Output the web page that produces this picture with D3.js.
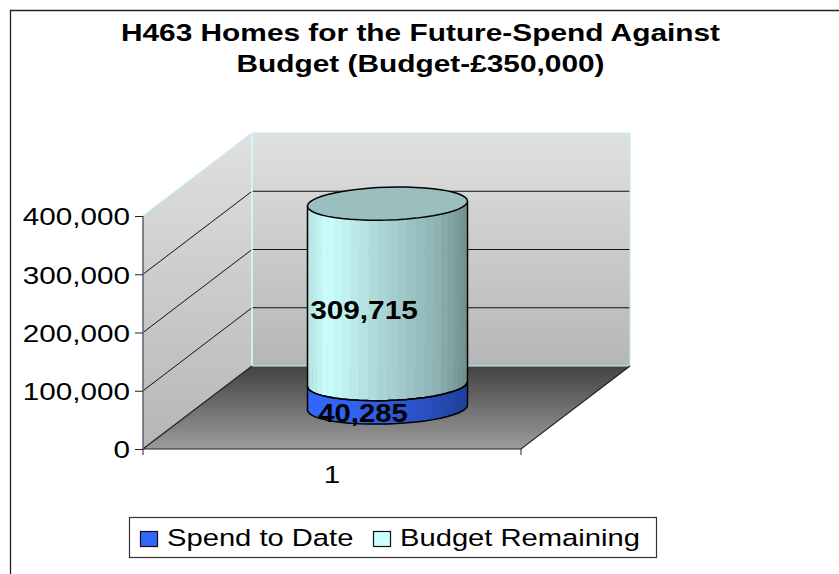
<!DOCTYPE html>
<html><head><meta charset="utf-8">
<script src="https://cdn.jsdelivr.net/npm/d3@7"></script>
<style>html,body{margin:0;padding:0;background:#fff}svg{display:block}text{font-family:"Liberation Sans",Arial,sans-serif;fill:#000}</style>
</head><body><svg id="c" width="839" height="574"></svg>
<script>
const titleLines = ["H463 Homes for the Future-Spend Against", "Budget (Budget-£350,000)"];
const categories = ["1"];
const seriesNames = ["Spend to Date", "Budget Remaining"];
const spendToDate = [40285];
const budgetRemaining = [309715];
const yTicks = [0, 100000, 200000, 300000, 400000];

const svg = d3.select("#c");
const W = 839, H = 574;
const depth = {x: 109, y: -83};
const y = d3.scaleLinear().domain([0, 400000]).range([449, 216]);
const x = d3.scaleBand().domain(categories).range([143, 521]);
const fmt = d3.format(",");
const stretch = k => sel => sel.each(function () {
  const w = this.getComputedTextLength();
  d3.select(this).attr("textLength", w * k).attr("lengthAdjust", "spacingAndGlyphs");
});

// frame
svg.append("path").attr("d", `M10.5,${H} V10.5 H${W}`).attr("fill", "none").attr("stroke", "#222").attr("stroke-width", 1.3);

// gradients
const defs = svg.append("defs");
function grad(id, a, b) {
  const g = defs.append("linearGradient").attr("id", id).attr("x1", 0).attr("y1", 0).attr("x2", 0).attr("y2", 1);
  g.append("stop").attr("offset", 0).attr("stop-color", a);
  g.append("stop").attr("offset", 1).attr("stop-color", b);
}
grad("wall", "#e0e0e0", "#b6b6b6");
grad("floor", "#424242", "#9c9c9c");

const x0 = x.range()[0], x1 = x.range()[1], yB = y(0), yT = y(400000);
const line = d3.line();
svg.append("path").attr("d", line([[x0, yB], [x1, yB], [x1 + depth.x, yB + depth.y], [x0 + depth.x, yB + depth.y]]) + "Z")
  .attr("fill", "url(#floor)");
svg.append("path").attr("d", line([[x0, yB], [x0, yT], [x0 + depth.x, yT + depth.y], [x0 + depth.x, yB + depth.y]]) + "Z")
  .attr("fill", "url(#wall)");
svg.append("rect").attr("x", x0 + depth.x).attr("y", yT + depth.y).attr("width", x1 - x0).attr("height", yB - yT)
  .attr("fill", "url(#wall)");

// gridlines
yTicks.filter(v => v > 0 && v < 400000).forEach(v => {
  svg.append("path").attr("d", line([[x0, y(v)], [x0 + depth.x, y(v) + depth.y], [x1 + depth.x, y(v) + depth.y]]))
    .attr("fill", "none").attr("stroke", "#111").attr("stroke-width", 1);
});
// cyan wall edges
svg.append("path").attr("d", line([[x0, yT], [x0 + depth.x, yT + depth.y], [x1 + depth.x, yT + depth.y], [x1 + depth.x, yB + depth.y], [x0 + depth.x, yB + depth.y]]))
  .attr("fill", "none").attr("stroke", "#bfeeee").attr("stroke-width", 1.2);
svg.append("line").attr("x1", x0 + depth.x).attr("x2", x0 + depth.x).attr("y1", yT + depth.y).attr("y2", yB + depth.y)
  .attr("stroke", "#ccffff").attr("stroke-width", 1.6);
// floor edges
svg.append("path").attr("d", line([[x0 + depth.x, yB + depth.y], [x0, yB], [x1, yB], [x1 + depth.x, yB + depth.y]]))
  .attr("fill", "none").attr("stroke", "#222").attr("stroke-width", 1.2);

// axes
const yAxis = d3.axisLeft(y).tickValues(yTicks).tickFormat(fmt).tickSize(8).tickPadding(5);
const gy = svg.append("g").attr("transform", `translate(${x0},0)`).call(yAxis);
gy.select(".domain").attr("stroke", "#667").attr("stroke-width", 1.6).attr("d", `M0,${yT}V${yB}`);
gy.selectAll(".tick line").attr("stroke", "#222");
gy.selectAll("text").attr("font-size", 24.5).attr("dy", "0.36em").call(stretch(1.21));
const xAxis = d3.axisBottom(x).tickSize(0).tickPadding(17);
const gx = svg.append("g").attr("transform", `translate(0,${yB})`).call(xAxis);
gx.select(".domain").remove();
gx.selectAll("text").attr("font-size", 24.5).attr("dy", "0.71em").attr("fill", "#000").call(stretch(1.21));
svg.append("line").attr("x1", x1).attr("x2", x1).attr("y1", yB).attr("y2", yB + 6).attr("stroke", "#222");
svg.append("line").attr("x1", x0).attr("x2", x0).attr("y1", yB).attr("y2", yB + 6).attr("stroke", "#222");

// cylinder
const cx = x(categories[0]) + x.bandwidth() / 2 + depth.x / 2 + 1;
const base = depth.y / 2;
const rA = {x: x.bandwidth() * 0.21, y: -4.5};
const rB = {x: 10, y: 16};
const t0 = Math.atan2(rB.x, rA.x);
const N = 26;
const pt = (t, v) => [cx + rA.x * Math.cos(t) + rB.x * Math.sin(t), y(v) + base + rA.y * Math.cos(t) + rB.y * Math.sin(t)];
const frontTs = d3.range(N + 1).map(i => t0 + Math.PI * i / N);
const allTs = d3.range(2 * N).map(i => t0 + Math.PI * i / N);

const shade = stops => d3.scaleLinear().domain(stops.map(s => s[0])).range(stops.map(s => s[1]));
const lightShade = shade([[0, "#b4e4e4"], [0.12, "#ccffff"], [0.45, "#abd6d6"], [0.8, "#8fb5b5"], [1, "#6f8f8f"]]);
const blueShade = shade([[0, "#3366ff"], [0.3, "#3063f0"], [0.7, "#2a52c4"], [1, "#1f3f9a"]]);

const spend = spendToDate[0], total = spend + budgetRemaining[0];
function segment(v0, v1, color) {
  const g = svg.append("g");
  d3.range(N).forEach(i => {
    const a = frontTs[i], b = frontTs[i + 1];
    const f = (pt((a + b) / 2, 0)[0] - (cx - rA.x)) / (2 * rA.x);
    const q = [pt(a, v0), pt(b, v0), pt(b, v1), pt(a, v1)];
    g.append("path").attr("d", line(q) + "Z").attr("fill", color(f)).attr("stroke", color(f)).attr("stroke-width", 0.6);
  });
  g.append("path").attr("d", line(frontTs.map(t => pt(t, v0)))).attr("fill", "none").attr("stroke", "#000").attr("stroke-width", 1.5);
  g.append("path").attr("d", line([pt(frontTs[0], v0), pt(frontTs[0], v1)])).attr("stroke", "#000").attr("stroke-width", 1.5);
  g.append("path").attr("d", line([pt(frontTs[N], v0), pt(frontTs[N], v1)])).attr("stroke", "#000").attr("stroke-width", 1.5);
}
segment(0, spend, blueShade);
segment(spend, total, lightShade);
svg.append("path").attr("d", line(frontTs.map(t => pt(t, spend)))).attr("fill", "none").attr("stroke", "#000").attr("stroke-width", 1.5);
svg.append("path").attr("d", line(allTs.map(t => pt(t, total))) + "Z")
  .attr("fill", "#9bbfbf").attr("stroke", "#000").attr("stroke-width", 1.5);

// data labels
svg.append("text").attr("x", 364).attr("y", y(spend + budgetRemaining[0] / 2) + base + 25)
  .attr("text-anchor", "middle").attr("font-size", 25).attr("font-weight", "bold")
  .text(fmt(budgetRemaining[0])).call(stretch(1.19));
svg.append("text").attr("x", 363).attr("y", y(spend / 2) + base + 26)
  .attr("text-anchor", "middle").attr("font-size", 25).attr("font-weight", "bold")
  .text(fmt(spend)).call(stretch(1.17));

// title
titleLines.forEach((t, i) => {
  svg.append("text").attr("x", 420.5).attr("y", 41 + i * 31).attr("text-anchor", "middle")
    .attr("font-size", 24.5).attr("font-weight", "bold").text(t).call(stretch(1.218));
});

// legend
svg.append("rect").attr("x", 129.5).attr("y", 517.5).attr("width", 527).attr("height", 40)
  .attr("fill", "#fff").attr("stroke", "#333").attr("stroke-width", 1.2);
const legendX = [140, 373];
const legendCol = ["#3366ff", "#ccffff"];
seriesNames.forEach((n, i) => {
  svg.append("rect").attr("x", legendX[i] + .5).attr("y", 531.5).attr("width", 17).attr("height", 15)
    .attr("fill", legendCol[i]).attr("stroke", "#111").attr("stroke-width", 1.2);
  svg.append("text").attr("x", legendX[i] + 27).attr("y", 545.5).attr("font-size", 24.5).text(n).call(stretch(1.19));
});
</script></body></html>
